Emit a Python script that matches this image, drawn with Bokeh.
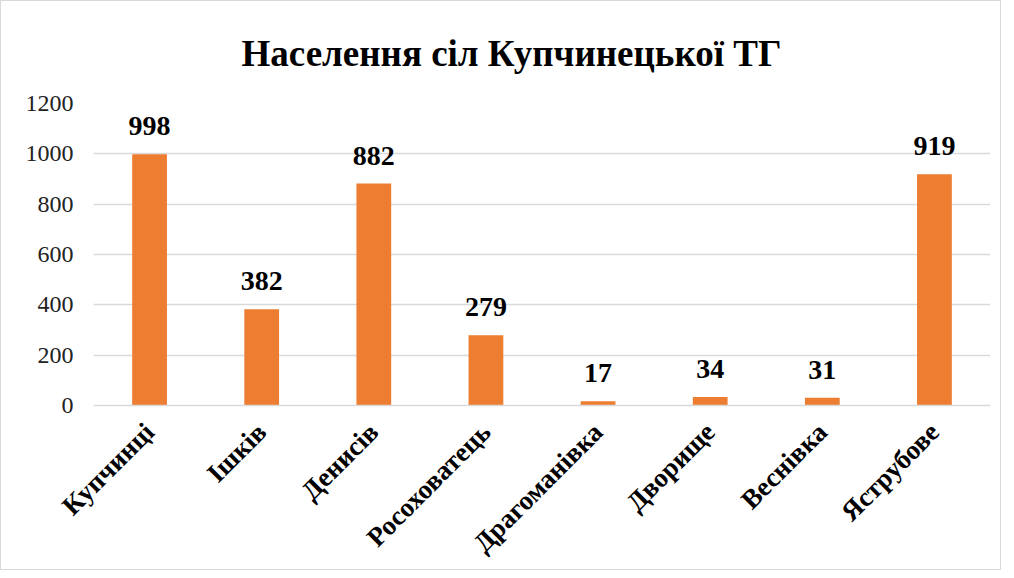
from bokeh.plotting import figure
from bokeh.models import ColumnDataSource, Range1d, LabelSet, FixedTicker
from bokeh.embed import file_html
from bokeh.resources import INLINE
from math import pi

villages = ["Купчинці", "Ішків", "Денисів", "Росоховатець", "Драгоманівка", "Дворище", "Веснівка", "Яструбове"]
population = [998, 382, 882, 279, 17, 34, 31, 919]
y_ticks = [0, 200, 400, 600, 800, 1000, 1200]

src = ColumnDataSource(dict(x=villages, y=population, lbl=[str(v) for v in population]))

FONT = "Liberation Serif"

p = figure(x_range=villages, y_range=Range1d(0, 1200), width=1001, height=570,
           output_backend="svg", toolbar_location=None,
           title="Населення сіл Купчинецької ТГ")
p.min_border_left = 92
p.min_border_right = 12
p.min_border_top = 101
p.min_border_bottom = 150
p.styles = {"border": "1px solid #d9d9d9"}

p.vbar(x="x", top="y", width=0.31, source=src, color="#ED7D31", line_color=None)

labels = LabelSet(x="x", y="y", text="lbl", source=src, text_align="center", text_baseline="bottom",
                  y_offset=19, text_font=FONT, text_font_style="bold", text_font_size="28px", text_color="black")
p.add_layout(labels)

p.title.text_font = FONT
p.title.text_font_size = "37px"
p.title.text_font_style = "bold"
p.title.align = "left"
p.title.offset = 148
p.title.standoff = 59
p.title.text_color = "black"

p.outline_line_color = None
p.xgrid.grid_line_color = None
p.ygrid.grid_line_color = "#d9d9d9"
p.ygrid.grid_line_width = 1.5

p.yaxis.ticker = FixedTicker(ticks=y_ticks)
p.yaxis.axis_line_color = None
p.yaxis.major_tick_line_color = None
p.yaxis.minor_tick_line_color = None
p.yaxis.major_label_text_font = FONT
p.yaxis.major_label_text_font_size = "24px"
p.yaxis.major_label_text_color = "#222222"
p.yaxis.major_label_standoff = 14

p.xaxis.axis_line_color = "#d9d9d9"
p.xaxis.axis_line_width = 1.5
p.xaxis.major_tick_line_color = None
p.xaxis.minor_tick_line_color = None
p.xaxis.major_label_orientation = pi / 4
p.xaxis.major_label_text_font = FONT
p.xaxis.major_label_text_font_size = "27px"
p.xaxis.major_label_text_font_style = "bold"
p.xaxis.major_label_text_color = "black"
p.xaxis.major_label_standoff = 16

open("out.html", "w").write(file_html(p, INLINE))
